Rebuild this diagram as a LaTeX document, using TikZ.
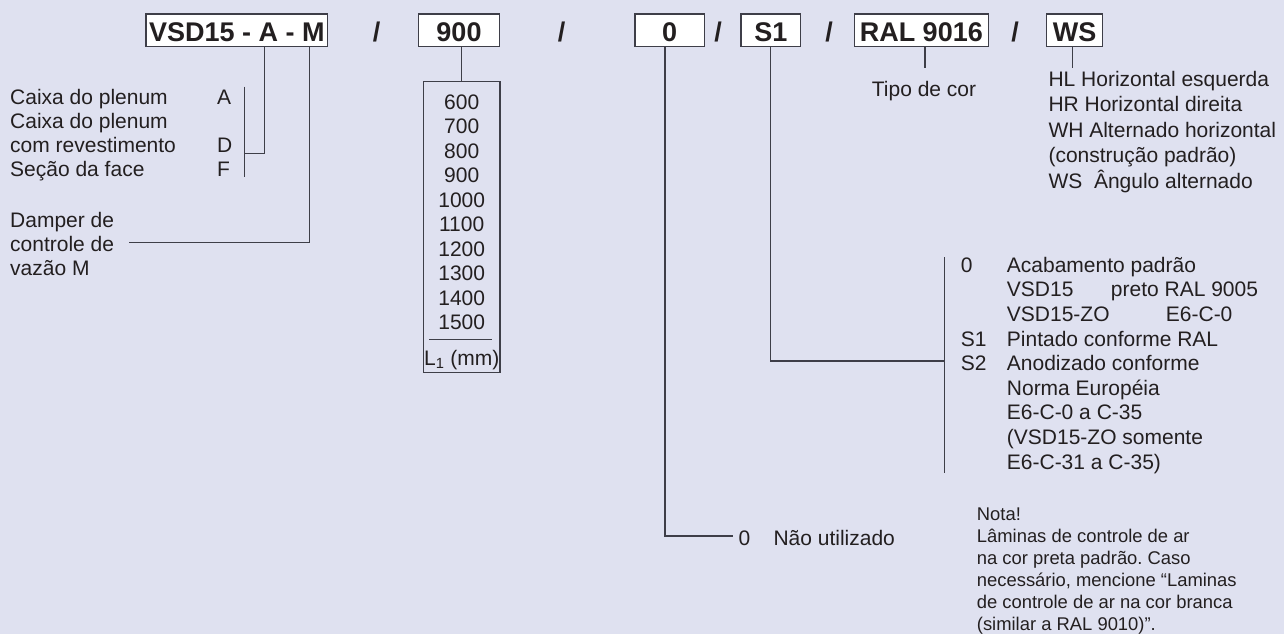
\documentclass[tikz,border=0pt]{standalone}
\usepackage{fontspec}
\setmainfont{Liberation Sans}
\definecolor{paper}{RGB}{223,225,240}
\definecolor{ink}{RGB}{35,31,32}
\definecolor{wire}{RGB}{62,62,72}
\frenchspacing

\begin{document}
\begin{tikzpicture}[x=1pt, y=-1pt,
    txt/.style={anchor=base west, inner sep=0pt, text=ink, font=\fontsize{21}{24.5}\selectfont},
    note/.style={txt, font=\fontsize{18.4}{22.1}\selectfont},
    codebox/.style={draw=wire, fill=white, line width=1.2pt, inner sep=0pt, minimum height=32.7pt,
        text height=23pt, text depth=0pt, text=ink, font=\bfseries\fontsize{27}{30}\selectfont},
    slash/.style={anchor=base, inner sep=0pt, text=ink, font=\bfseries\fontsize{27}{30}\selectfont},
    lead/.style={draw=wire, line width=1.3pt}]

	\fill[paper] (0,0) rectangle (1284,634);

	% type code line
	\node[codebox, minimum width=181.7pt] (vsd) at (236.85,30.35) {VSD15 - A - M};
	\node[slash] (sl1) at (376.7,41.7) {/};
	\node[codebox, minimum width=80.6pt] (len) at (459,30.35) {900};
	\node[slash] (sl2) at (561.7,41.7) {/};
	\node[codebox, minimum width=69.3pt] (zero) at (669.65,30.35) {0};
	\node[slash] (sl3) at (718,41.7) {/};
	\node[codebox, minimum width=59.7pt] (sone) at (770.85,30.35) {S1};
	\node[slash] (sl4) at (829,41.7) {/};
	\node[codebox, minimum width=134pt] (ral) at (921.3,30.35) {RAL 9016};
	\node[slash] (sl5) at (1015,41.7) {/};
	\node[codebox, minimum width=56pt] (ws) at (1074.7,30.35) {WS};

	% housing
	\node[txt] (plen) at (10,104.3) {Caixa do plenum};
	\node[txt] (plenb) at (10,128.3) {Caixa do plenum};
	\node[txt] (rev) at (10,152.7) {com revestimento};
	\node[txt] (face) at (10,176.7) {Seção da face};
	\node[txt] (codeA) at (217,104.3) {A};
	\node[txt] (codeD) at (217,152.7) {D};
	\node[txt] (codeF) at (217,176.7) {F};
	\coordinate (abarTop) at (244.3,86.7);
	\coordinate (abarBot) at (244.3,176.7);
	\coordinate (aKnee) at (264.3,153.3);
	\draw[lead] (abarTop) -- (abarBot);
	\draw[lead] (vsd.south -| aKnee) -- (aKnee) -- (aKnee -| abarTop);

	% damper
	\node[txt] (damp) at (10,227.7) {Damper de};
	\node[txt] (dampb) at (10,251.7) {controle de};
	\node[txt] (dampc) at (10,275.7) {vazão M};
	\coordinate (mKnee) at (309.3,242.7);
	\coordinate (mEnd) at (129.3,242.7);
	\draw[lead] (vsd.south -| mKnee) -- (mKnee) -- (mEnd);

	% lengths
	\node[draw=wire, line width=1.2pt, inner sep=0pt, minimum width=76.7pt, minimum height=291pt] (lenlist) at (461.65,227.2) {};
	\foreach \v [count=\i] in {600,700,...,1500}
		\node[txt, anchor=base] (len\i) at (461.7,{109.3+24.5*(\i-1)}) {\v};
	\draw[draw=wire, line width=1pt] (429.3,339.3) -- (491.7,339.3);
	\node[txt, anchor=base] (lenunit) at (461.7,365) {L\textsubscript{1} (mm)};
	\draw[lead] (len.south -| lenlist.north) -- (lenlist.north);

	% not used
	\node[txt] (unused0) at (738.3,545) {0};
	\node[txt] (unused) at (773.3,545) {Não utilizado};
	\coordinate (zKnee) at (665,536);
	\coordinate (zEnd) at (733.3,536);
	\draw[lead] (zero.south -| zKnee) -- (zKnee) -- (zEnd);

	% finish
	\node[txt] (fin0) at (960.7,272.3) {0};
	\node[txt] (finS1) at (960.7,346.1) {S1};
	\node[txt] (finS2) at (960.7,370.7) {S2};
	\foreach \t [count=\i] in {Acabamento padrão, VSD15, VSD15-ZO, Pintado conforme RAL,
			Anodizado conforme, Norma Européia, E6-C-0 a C-35, {(VSD15-ZO somente}, {E6-C-31 a C-35)}}
		\node[txt] (fin\i) at (1006.7,{272.3+24.6*(\i-1)}) {\t};
	\node[txt] (finblack) at (1110.7,296.9) {preto RAL 9005};
	\node[txt] (finzo) at (1165.7,321.5) {E6-C-0};
	\coordinate (finTop) at (944.3,257.3);
	\coordinate (finBot) at (944.3,473.3);
	\coordinate (sKnee) at (770.7,361);
	\draw[lead] (finTop) -- (finBot);
	\draw[lead] (sone.south -| sKnee) -- (sKnee) -- (sKnee -| finTop);

	% colour
	\node[txt, anchor=base] (tipo) at (924,96) {Tipo de cor};
	\coordinate (ralFoot) at (925,68);
	\draw[lead] (ral.south -| ralFoot) -- (ralFoot);

	% blade direction
	\foreach \t [count=\i] in {HL Horizontal esquerda, HR Horizontal direita, WH Alternado horizontal,
			{(construção padrão)}, WS\ \ Ângulo alternado}
		\node[txt] (dir\i) at (1048.3,{86+25.6*(\i-1)}) {\t};
	\coordinate (wsFoot) at (1072.7,68);
	\draw[lead] (ws.south -| wsFoot) -- (wsFoot);

	% note
	\foreach \t [count=\i] in {Nota!, Lâminas de controle de ar, na cor preta padrão. Caso,
			{necessário, mencione “Laminas}, de controle de ar na cor branca, {(similar a RAL 9010)”.}}
		\node[note] (nota\i) at (976.7,{520+22.1*(\i-1)}) {\t};
\end{tikzpicture}
\end{document}
